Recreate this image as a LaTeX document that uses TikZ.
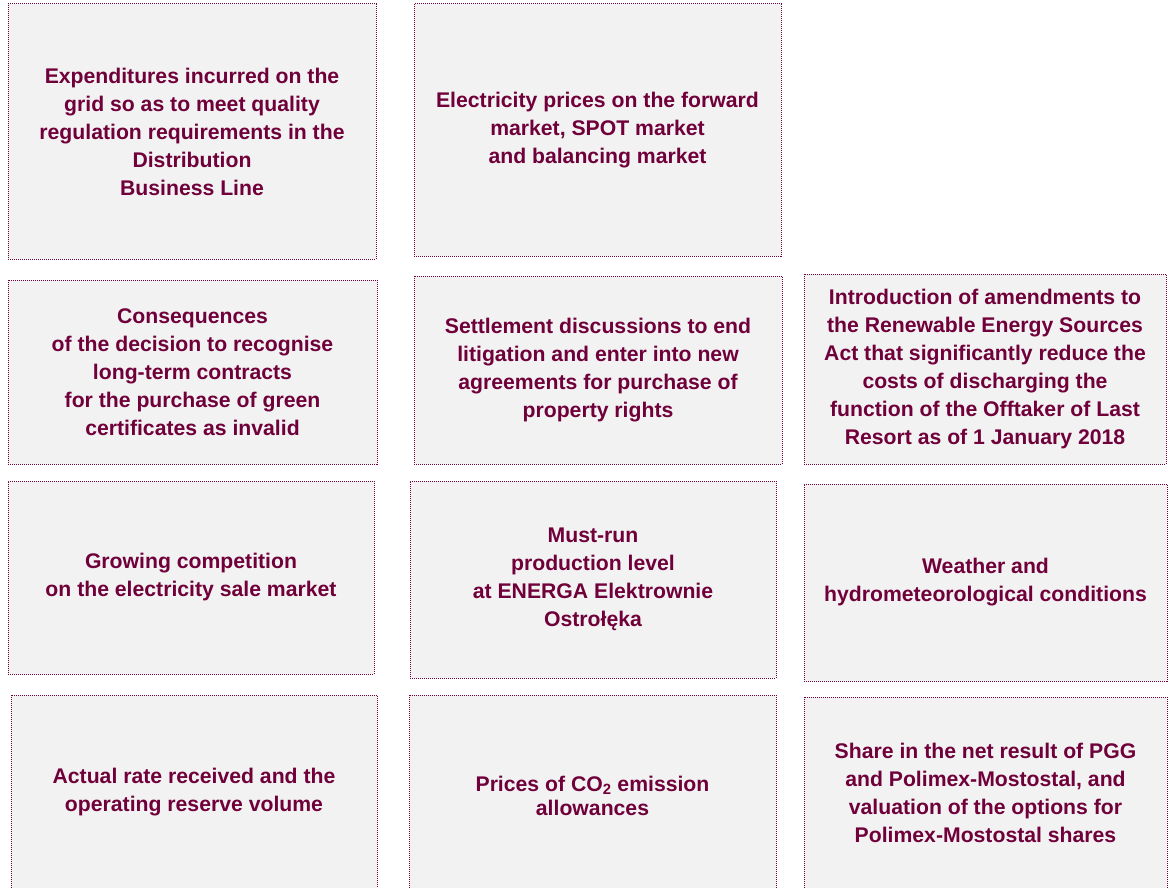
\documentclass[tikz,border=0pt]{standalone}
\usepackage{fontspec}
\setmainfont{Liberation Sans}
\usepackage{tikz}
\definecolor{cwine}{RGB}{112,0,58}
\definecolor{cgray}{RGB}{242,242,242}

\begin{document}
\begin{tikzpicture}[
  x=1pt, y=-1pt,
  card/.style = {rectangle, draw=cwine, fill=cgray, line width=1pt,
                 dash pattern=on 1pt off 1pt, inner sep=0pt,
                 align=center, text=cwine,
                 font=\fontsize{21.2}{28}\selectfont\bfseries},
]
\useasboundingbox (0,0) rectangle (1168,888);
\clip (0,0) rectangle (1168,888);
% top row
\node[card, minimum width=368, minimum height=255] (grid) at (192,131.5)
  {Expenditures incurred on the\\grid so as to meet quality\\regulation requirements in the\\Distribution\\Business Line};
\node[card, minimum width=367, minimum height=252] (prices) at (597.5,130)
  {Electricity prices on the forward\\market, SPOT market\\and balancing market};
% second row
\node[card, minimum width=369, minimum height=184] (green) at (192.5,372)
  {Consequences\\of the decision to recognise\\long-term contracts\\for the purchase of green\\certificates as invalid};
\node[card, minimum width=368, minimum height=188] (settle) at (598,370)
  {Settlement discussions to end\\litigation and enter into new\\agreements for purchase of\\property rights};
\node[card, minimum width=362, minimum height=190] (res) at (985,369)
  {Introduction of amendments to\\the Renewable Energy Sources\\Act that significantly reduce the\\costs of discharging the\\function of the Offtaker of Last\\Resort as of 1 January 2018};
% third row
\node[card, minimum width=366, minimum height=193] (compet) at (191,577.5)
  {Growing competition\\on the electricity sale market};
\node[card, minimum width=366, minimum height=197] (mustrun) at (593,579.5)
  {Must-run\\production level\\at ENERGA Elektrownie\\Ostrołęka};
\node[card, minimum width=363, minimum height=197] (weather) at (985.5,582.5)
  {Weather and\\hydrometeorological conditions};
% bottom row, cut by the page edge
\node[card, minimum width=366, minimum height=194] (reserve) at (194,792)
  {Actual rate received and the\\operating reserve volume};
\node[card, minimum width=367, minimum height=202] (co2) at (592.5,796)
  {Prices of CO\textsubscript{2} emission\\[-4pt]allowances};
\node[card, minimum width=363, minimum height=192] (pgg) at (985.5,793)
  {Share in the net result of PGG\\and Polimex-Mostostal, and\\valuation of the options for\\Polimex-Mostostal shares};
\end{tikzpicture}
\end{document}
